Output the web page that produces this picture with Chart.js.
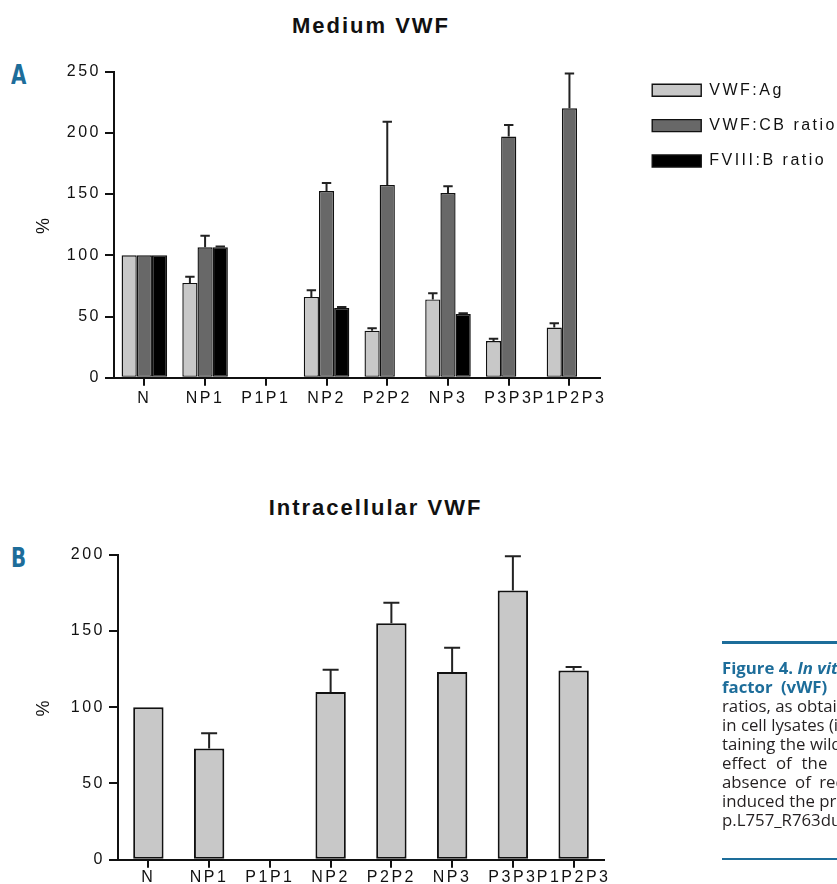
<!DOCTYPE html>
<html>
<head>
<meta charset="utf-8">
<title>Medium / Intracellular VWF</title>
<script src="https://cdn.jsdelivr.net/npm/chart.js@4.4.1/dist/chart.umd.min.js"></script>
<style>
  html, body { margin: 0; padding: 0; background: #fff; }
  body { position: relative; width: 837px; height: 884px; overflow: hidden; font-family: "Liberation Sans", Arial, sans-serif; }
  canvas { position: absolute; left: 0; }
  .title { position: absolute; left: 0; font-size: 22px; line-height: 22px; font-weight: bold; letter-spacing: 2px; text-align: center; color: #111; white-space: nowrap; }
  .panel { position: absolute; left: 11px; font-family: "Liberation Sans Narrow", "DejaVu Sans Condensed", sans-serif; font-weight: bold; font-size: 26px; line-height: 26px; color: #1d6d9a; transform: scaleX(0.85); transform-origin: left top; }
  .caption { position: absolute; left: 722px; top: 641px; width: 400px; font-family: "Open Sans", "Noto Sans", sans-serif; font-size: 16.8px; line-height: 19px; color: #231f20; }
  .caption .rule { height: 2.5px; background: #1d6d9a; }
  .caption .first { margin-top: 14px; }
  .caption .line { white-space: nowrap; }
  .caption .blue { color: #1d6d9a; font-weight: bold; }
  .caption .bottom { margin-top: 29px; }
</style>
</head>
<body>
  <div class="title" style="top:15px;width:742px">Medium VWF</div>
  <div class="panel" style="top:62px">A</div>
  <canvas id="mediumChart" width="847" height="353" style="top:58px"></canvas>

  <div class="title" style="top:497px;width:751px">Intracellular VWF</div>
  <div class="panel" style="top:545px">B</div>
  <canvas id="intraChart" width="837" height="346" style="top:541px"></canvas>

  <div class="caption">
    <div class="rule"></div>
    <div class="line blue first">Figure 4. <i>In vitro expression of recombinant</i></div>
    <div class="line blue" style="word-spacing:4px">factor (vWF) mutants in HEK293</div>
    <div class="line">ratios, as obtained in conditioned</div>
    <div class="line">in cell lysates (intracellular VWF)</div>
    <div class="line">taining the wild-type and mutated</div>
    <div class="line" style="word-spacing:5.5px">effect of the mutations on</div>
    <div class="line" style="word-spacing:4px">absence of reduced secretion</div>
    <div class="line">induced the preferential</div>
    <div class="line">p.L757_R763dup</div>
    <div class="rule bottom"></div>
  </div>

<script>
// categories and tick values
const groups = ['N', 'NP1', 'P1P1', 'NP2', 'P2P2', 'NP3', 'P3P3', 'P1P2P3'];
const seriesNames = ['VWF:Ag', 'VWF:CB ratio', 'FVIII:B ratio'];
const yTicksA = [0, 50, 100, 150, 200, 250];
const yTicksB = [0, 50, 100, 150, 200];

// A - medium (mean and upper error, %)
const mediumAg = [100, 77.5, null, 66, 38.5, 64, 30, 41];
const mediumAgErr = [0, 5, null, 5.5, 2, 5, 1.8, 3.5];
const mediumCb = [100, 106.5, null, 152.5, 157.5, 150.8, 197, 220];
const mediumCbErr = [0, 9.5, null, 6.5, 51.5, 5.5, 9.5, 28.5];
const mediumFviii = [100, 106.5, null, 57, null, 52, null, null];
const mediumFviiiErr = [0, 0.8, null, 0.8, null, 0.8, null, null];

// B - intracellular VWF:Ag
const intraAg = [100, 73, null, 110, 155, 123, 176.5, 124];
const intraAgErr = [0, 10, null, 14.5, 13.5, 16, 22.5, 2.3];

const FONT = '"Liberation Sans", Arial, sans-serif';
const INK = '#111';
Chart.defaults.font.family = FONT;
Chart.defaults.color = INK;

// spaced-out lettering like the original figure
const spacing = {
  id: 'spacing',
  afterInit(chart) { chart.ctx.letterSpacing = '2.5px'; },
  beforeUpdate(chart) { chart.ctx.letterSpacing = '2.5px'; },
  beforeDraw(chart) { chart.ctx.letterSpacing = '2.5px'; }
};

// one-sided error bars (mean + SEM)
const errorBars = {
  id: 'errorBars',
  afterDatasetsDraw(chart, args, opts) {
    const ctx = chart.ctx;
    const y = chart.scales.y;
    chart.data.datasets.forEach((ds, i) => {
      if (!ds.errors) return;
      const meta = chart.getDatasetMeta(i);
      meta.data.forEach((bar, j) => {
        const v = ds.data[j], e = ds.errors[j];
        if (v == null || !e) return;
        const top = y.getPixelForValue(v + e);
        ctx.save();
        ctx.strokeStyle = '#222';
        ctx.lineWidth = 2;
        ctx.beginPath();
        ctx.moveTo(bar.x, bar.y);
        ctx.lineTo(bar.x, top);
        ctx.moveTo(bar.x - opts.cap, top);
        ctx.lineTo(bar.x + opts.cap, top);
        ctx.stroke();
        ctx.restore();
      });
    });
  }
};

function xScale(labelPad) {
  return {
    offset: true,
    grid: { display: true, drawOnChartArea: false, drawTicks: true, tickLength: 8, offset: false, color: INK, lineWidth: 2 },
    border: { display: true, color: INK, width: 2 },
    ticks: { padding: labelPad, color: INK, font: { size: 16 }, maxRotation: 0, autoSkip: false }
  };
}

function yScale(ticks, width) {
  return {
    min: ticks[0],
    max: ticks[ticks.length - 1],
    grid: { drawOnChartArea: false, tickLength: 9, color: INK, lineWidth: 2 },
    border: { display: true, color: INK, width: 2 },
    ticks: { stepSize: ticks[1] - ticks[0], padding: 4, color: INK, font: { size: 16 } },
    title: { display: true, text: '%', color: INK, font: { size: 18 }, padding: { top: 33, bottom: 0 } },
    afterFit: s => { s.width = width; }
  };
}

new Chart(document.getElementById('mediumChart'), {
  type: 'bar',
  data: {
    labels: groups,
    datasets: [
      { label: seriesNames[0], data: mediumAg, errors: mediumAgErr, backgroundColor: '#c8c8c8', borderColor: INK, borderWidth: 1.4, borderSkipped: false },
      { label: seriesNames[1], data: mediumCb, errors: mediumCbErr, backgroundColor: '#686868', borderColor: INK, borderWidth: 1.4, borderSkipped: false },
      { label: seriesNames[2], data: mediumFviii, errors: mediumFviiiErr, backgroundColor: '#000', borderColor: INK, borderWidth: 1.4, borderSkipped: false }
    ]
  },
  options: {
    responsive: false,
    animation: false,
    categoryPercentage: 0.75,
    barPercentage: 1,
    layout: { padding: 0 },
    scales: {
      x: xScale(3),
      y: yScale(yTicksA, 114),
      // empty spacer between plot and legend
      gap: { type: 'linear', position: 'right', display: true, grid: { display: false }, border: { display: false }, ticks: { display: false }, afterFit: s => { s.width = 33; } }
    },
    plugins: {
      legend: {
        position: 'right',
        align: 'start',
        maxWidth: 400,
        // blank title only nudges the entries down
        title: { display: true, text: ' ', font: { size: 4, lineHeight: 1.2 }, padding: 0 },
        labels: { boxWidth: 49, boxHeight: 12, padding: 19.4, color: INK, font: { size: 16 } }
      },
      tooltip: { enabled: false },
      errorBars: { cap: 4.7 }
    }
  },
  plugins: [spacing, errorBars]
});

new Chart(document.getElementById('intraChart'), {
  type: 'bar',
  data: {
    labels: groups,
    datasets: [
      { label: seriesNames[0], data: intraAg, errors: intraAgErr, backgroundColor: '#c8c8c8', borderColor: INK, borderWidth: 2, borderSkipped: false }
    ]
  },
  options: {
    responsive: false,
    animation: false,
    categoryPercentage: 1,
    barPercentage: 0.5,
    layout: { padding: { left: 0, right: 233 } },
    scales: {
      x: xScale(0),
      y: yScale(yTicksB, 118)
    },
    plugins: {
      legend: { display: false },
      tooltip: { enabled: false },
      errorBars: { cap: 8 }
    }
  },
  plugins: [spacing, errorBars]
});
</script>
</body>
</html>
